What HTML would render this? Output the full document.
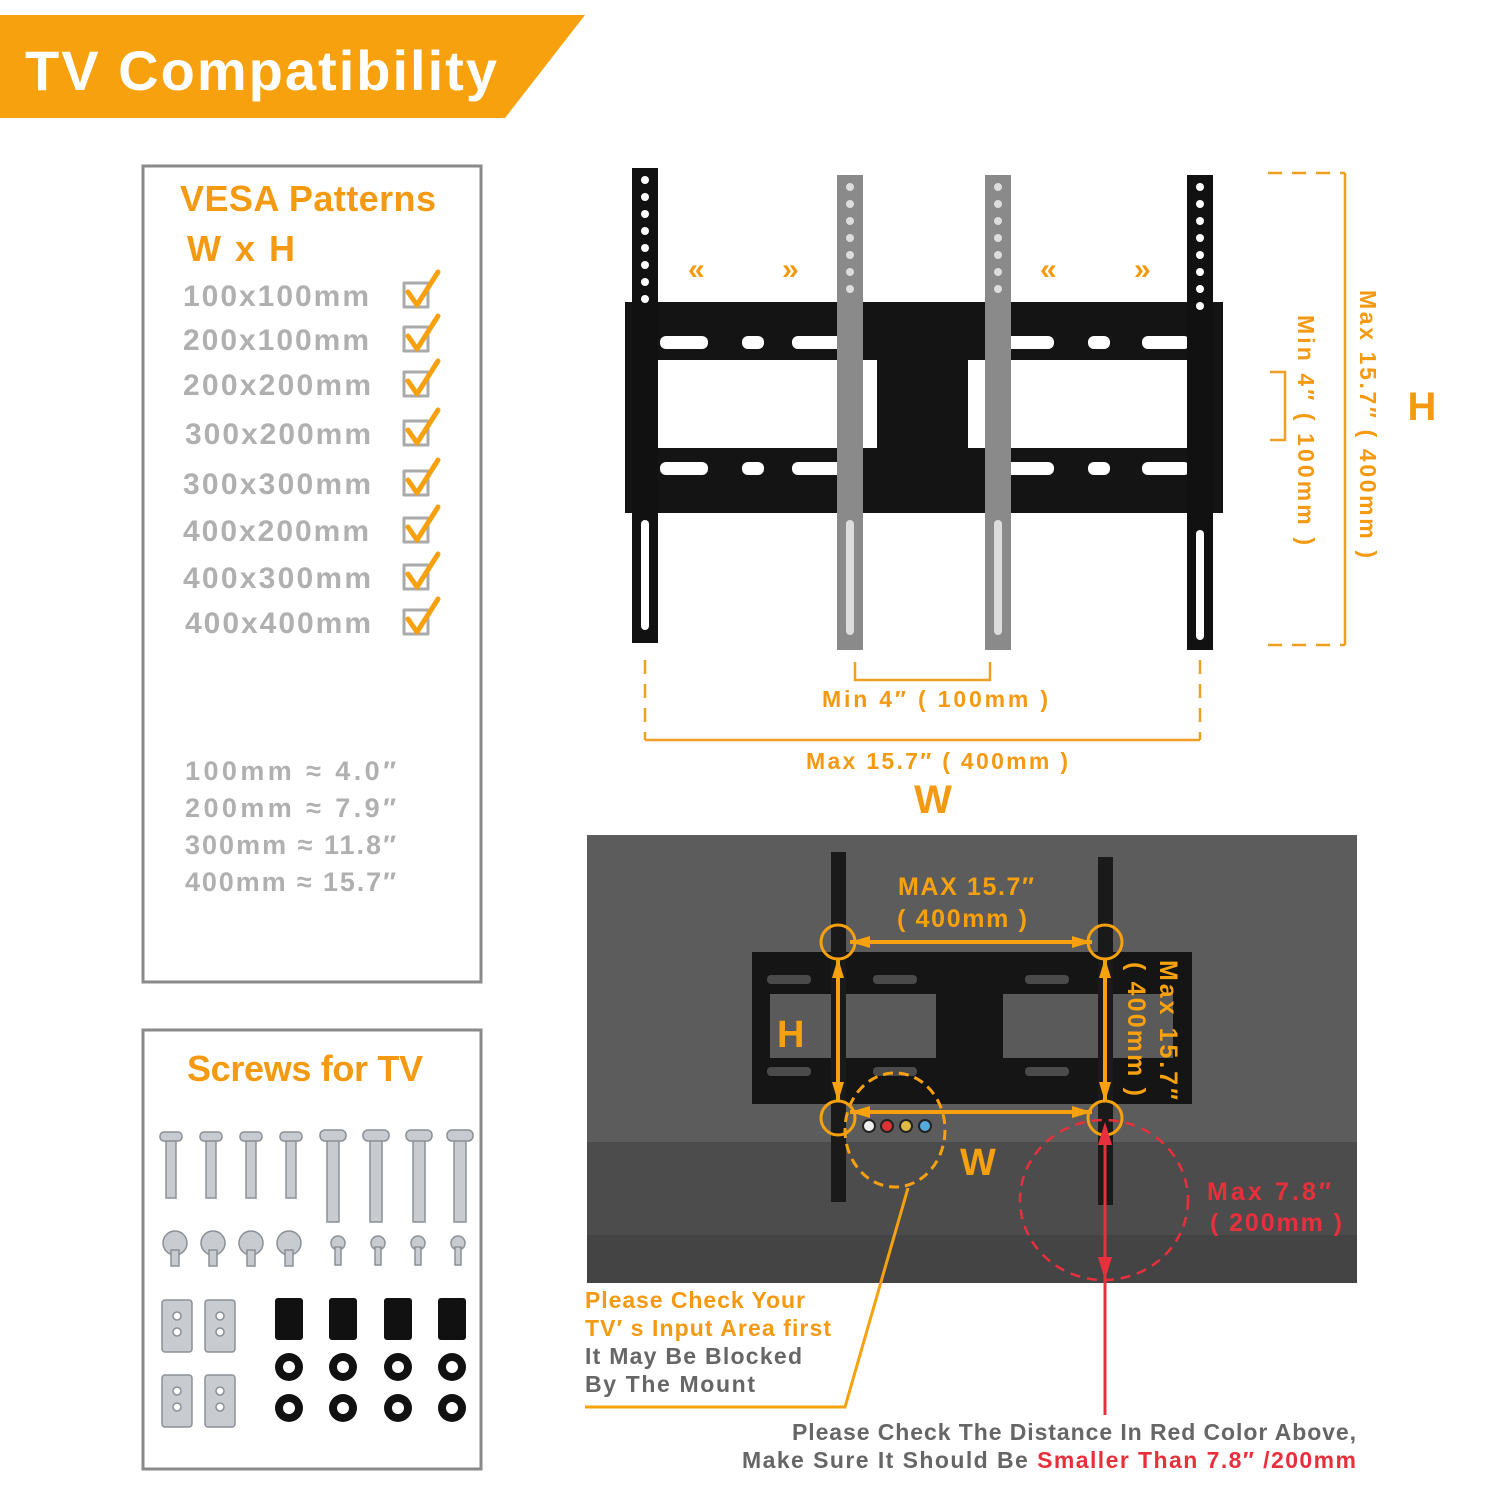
<!DOCTYPE html>
<html><head><meta charset="utf-8"><style>
html,body{margin:0;padding:0;background:#fff}
svg text{font-family:"Liberation Sans","DejaVu Sans",sans-serif;font-weight:bold}
</style></head><body>
<svg width="1500" height="1500" viewBox="0 0 1500 1500" xmlns="http://www.w3.org/2000/svg">
<!-- header -->
<polygon points="0,15 585,15 505,118 0,118" fill="#f7a10f"/>
<text x="25" y="90" font-size="56" fill="#fff" textLength="472" lengthAdjust="spacing">TV  Compatibility</text>

<!-- left box 1 -->
<rect x="143" y="166" width="338" height="816" fill="none" stroke="#8a8a8a" stroke-width="3"/>
<text x="180" y="211" font-size="36" fill="#f39a12" textLength="256">VESA Patterns</text>
<text x="187" y="261" font-size="36" fill="#f39a12" textLength="108" lengthAdjust="spacing">W x H</text>
<g font-size="30" fill="#b0b0b0">
<text x="183" y="306" textLength="186">100x100mm</text>
<text x="183" y="350" textLength="186">200x100mm</text>
<text x="183" y="395" textLength="188">200x200mm</text>
<text x="185" y="444" textLength="186">300x200mm</text>
<text x="183" y="494" textLength="188">300x300mm</text>
<text x="183" y="541" textLength="186">400x200mm</text>
<text x="183" y="588" textLength="188">400x300mm</text>
<text x="185" y="633" textLength="186">400x400mm</text>
</g>
<g stroke-linecap="round" stroke-linejoin="round">
<g id="cb">
<rect x="404" y="283" width="24" height="24" fill="none" stroke="#aaa" stroke-width="3"/>
<polyline points="408,292 417,305 438,272" fill="none" stroke="#f7a10f" stroke-width="5"/>
</g>
<use href="#cb" y="44"/><use href="#cb" y="89"/><use href="#cb" y="138"/>
<use href="#cb" y="188"/><use href="#cb" y="235"/><use href="#cb" y="282"/><use href="#cb" y="327"/>
</g>
<g font-size="27" fill="#b0b0b0">
<text x="185" y="780" textLength="211" lengthAdjust="spacing">100mm ≈   4.0″</text>
<text x="185" y="817" textLength="211" lengthAdjust="spacing">200mm ≈   7.9″</text>
<text x="185" y="854" textLength="211" lengthAdjust="spacing">300mm ≈ 11.8″</text>
<text x="185" y="891" textLength="211" lengthAdjust="spacing">400mm ≈ 15.7″</text>
</g>

<!-- left box 2 -->
<rect x="143" y="1030" width="338" height="439" fill="none" stroke="#8a8a8a" stroke-width="3"/>
<text x="187" y="1081" font-size="36" fill="#f39a12" textLength="236">Screws for TV</text>
<g fill="#c8ccd0" stroke="#8a9096" stroke-width="1.5">
<g id="s1"><rect x="166" y="1140" width="10" height="58"/><rect x="160" y="1132" width="22" height="9" rx="4"/></g>
<use href="#s1" x="40"/><use href="#s1" x="80"/><use href="#s1" x="120"/>
<g id="s2"><rect x="327" y="1140" width="12" height="82"/><rect x="320" y="1130" width="26" height="11" rx="5"/></g>
<use href="#s2" x="43"/><use href="#s2" x="86"/><use href="#s2" x="127"/>
<g id="s3"><circle cx="175" cy="1243" r="12"/><rect x="171" y="1250" width="8" height="16"/></g>
<use href="#s3" x="38"/><use href="#s3" x="76"/><use href="#s3" x="114"/>
<g id="s4"><circle cx="338" cy="1243" r="7"/><rect x="335" y="1247" width="6" height="18"/></g>
<use href="#s4" x="40"/><use href="#s4" x="80"/><use href="#s4" x="120"/>
<g id="p"><rect x="162" y="1300" width="30" height="52" rx="3"/><circle cx="177" cy="1316" r="4" fill="#fff"/><circle cx="177" cy="1332" r="4" fill="#fff"/></g>
<use href="#p" x="43"/><use href="#p" y="75"/><use href="#p" x="43" y="75"/>
</g>
<g fill="#111">
<g id="sp"><rect x="275" y="1298" width="28" height="42" rx="3"/><circle cx="289" cy="1367" r="14"/><circle cx="289" cy="1408" r="14"/></g>
<use href="#sp" x="54"/><use href="#sp" x="109"/><use href="#sp" x="163"/>
</g>
<g fill="#fff"><circle cx="289" cy="1367" r="6"/><circle cx="289" cy="1408" r="6"/><circle cx="343" cy="1367" r="6"/><circle cx="343" cy="1408" r="6"/><circle cx="398" cy="1367" r="6"/><circle cx="398" cy="1408" r="6"/><circle cx="452" cy="1367" r="6"/><circle cx="452" cy="1408" r="6"/></g>

<!-- top mount -->
<rect x="625" y="302" width="598" height="211" fill="#141414"/>
<rect x="655" y="360" width="222" height="88" fill="#fff"/>
<rect x="968" y="360" width="222" height="88" fill="#fff"/>
<g fill="#fff">
<rect x="660" y="336" width="48" height="13" rx="6"/><rect x="742" y="336" width="22" height="13" rx="6"/><rect x="792" y="336" width="54" height="13" rx="6"/>
<rect x="1000" y="336" width="54" height="13" rx="6"/><rect x="1088" y="336" width="22" height="13" rx="6"/><rect x="1142" y="336" width="48" height="13" rx="6"/>
<rect x="660" y="462" width="48" height="13" rx="6"/><rect x="742" y="462" width="22" height="13" rx="6"/><rect x="792" y="462" width="54" height="13" rx="6"/>
<rect x="1000" y="462" width="54" height="13" rx="6"/><rect x="1088" y="462" width="22" height="13" rx="6"/><rect x="1142" y="462" width="48" height="13" rx="6"/>
</g>
<rect x="632" y="168" width="26" height="475" fill="#111"/>
<rect x="1187" y="175" width="26" height="475" fill="#111"/>
<rect x="837" y="175" width="26" height="475" fill="#8a8a8a"/>
<rect x="985" y="175" width="26" height="475" fill="#8a8a8a"/>
<g fill="#fff">
<circle cx="645" cy="180" r="4"/><circle cx="645" cy="197" r="4"/><circle cx="645" cy="214" r="4"/><circle cx="645" cy="231" r="4"/><circle cx="645" cy="248" r="4"/><circle cx="645" cy="265" r="4"/><circle cx="645" cy="282" r="4"/><circle cx="645" cy="299" r="4"/>
<circle cx="1200" cy="187" r="4"/><circle cx="1200" cy="204" r="4"/><circle cx="1200" cy="221" r="4"/><circle cx="1200" cy="238" r="4"/><circle cx="1200" cy="255" r="4"/><circle cx="1200" cy="272" r="4"/><circle cx="1200" cy="289" r="4"/><circle cx="1200" cy="306" r="4"/>
<rect x="641" y="520" width="8" height="110" rx="4"/><rect x="1196" y="530" width="8" height="110" rx="4"/>
<rect x="846" y="520" width="8" height="115" rx="4" fill="#ddd"/><rect x="994" y="520" width="8" height="115" rx="4" fill="#ddd"/>
</g>
<g fill="#ddd">
<circle cx="850" cy="187" r="4"/><circle cx="850" cy="204" r="4"/><circle cx="850" cy="221" r="4"/><circle cx="850" cy="238" r="4"/><circle cx="850" cy="255" r="4"/><circle cx="850" cy="272" r="4"/><circle cx="850" cy="289" r="4"/>
<circle cx="998" cy="187" r="4"/><circle cx="998" cy="204" r="4"/><circle cx="998" cy="221" r="4"/><circle cx="998" cy="238" r="4"/><circle cx="998" cy="255" r="4"/><circle cx="998" cy="272" r="4"/><circle cx="998" cy="289" r="4"/>
</g>
<g font-size="30" fill="#f39a12"><text x="688" y="279">«</text><text x="782" y="279">»</text><text x="1040" y="279">«</text><text x="1134" y="279">»</text></g>

<!-- top dims -->
<g stroke="#f0a020" stroke-width="2.5" fill="none">
<line x1="645" y1="660" x2="645" y2="740" stroke-dasharray="14,10"/>
<line x1="1200" y1="660" x2="1200" y2="740" stroke-dasharray="14,10"/>
<line x1="645" y1="740" x2="1200" y2="740"/>
<polyline points="855,662 855,680 990,680 990,662"/>
<line x1="1268" y1="173" x2="1345" y2="173" stroke-dasharray="14,10"/>
<line x1="1268" y1="645" x2="1345" y2="645" stroke-dasharray="14,10"/>
<line x1="1345" y1="173" x2="1345" y2="645"/>
<polyline points="1270,372 1285,372 1285,440 1270,440"/>
</g>
<g fill="#f39a12">
<text x="822" y="707" font-size="23" textLength="226" lengthAdjust="spacing">Min  4″  ( 100mm )</text>
<text x="806" y="769" font-size="23" textLength="262" lengthAdjust="spacing">Max  15.7″  ( 400mm )</text>
<text x="933" y="813" font-size="40" text-anchor="middle">W</text>
<text x="1422" y="420" font-size="40" text-anchor="middle">H</text>
<text font-size="23" transform="translate(1360,290) rotate(90)" textLength="268" lengthAdjust="spacing">Max  15.7″  ( 400mm )</text>
<text font-size="23" transform="translate(1298,315) rotate(90)" textLength="230" lengthAdjust="spacing">Min  4″  ( 100mm )</text>
</g>

<!-- photo -->
<rect x="587" y="835" width="770" height="448" fill="#5c5c5c"/>
<rect x="587" y="1142" width="770" height="141" fill="#4c4c4c"/>
<rect x="587" y="1235" width="770" height="48" fill="#444"/>
<rect x="752" y="952" width="440" height="152" fill="#151515"/>
<rect x="770" y="994" width="166" height="64" fill="#5a5a5a"/>
<rect x="1003" y="994" width="170" height="64" fill="#5a5a5a"/>
<rect x="831" y="852" width="15" height="350" fill="#1a1a1a"/>
<rect x="1098" y="857" width="15" height="348" fill="#1a1a1a"/>
<g fill="#4a4a4a"><rect x="767" y="975" width="44" height="9" rx="4"/><rect x="873" y="975" width="44" height="9" rx="4"/><rect x="1025" y="975" width="44" height="9" rx="4"/><rect x="767" y="1067" width="44" height="9" rx="4"/><rect x="873" y="1067" width="44" height="9" rx="4"/><rect x="1025" y="1067" width="44" height="9" rx="4"/></g>
<g stroke="#f7a10f" stroke-width="3" fill="none">
<circle cx="838" cy="942" r="17"/><circle cx="1105" cy="942" r="17"/>
<circle cx="838" cy="1118" r="17"/><circle cx="1105" cy="1118" r="17"/>
<line x1="850" y1="942" x2="1092" y2="942" stroke-width="4"/>
<line x1="850" y1="1112" x2="1092" y2="1112" stroke-width="4"/>
<line x1="838" y1="958" x2="838" y2="1102" stroke-width="4"/>
<line x1="1105" y1="958" x2="1105" y2="1102" stroke-width="4"/>
<ellipse cx="895" cy="1130" rx="50" ry="57" stroke-dasharray="10,6"/>
<polyline points="908,1188 845,1407 585,1407"/>
</g>
<g fill="#f7a10f">
<polygon points="850,942 870,936 870,948"/><polygon points="1092,942 1072,936 1072,948"/>
<polygon points="850,1112 870,1106 870,1118"/><polygon points="1092,1112 1072,1106 1072,1118"/>
<polygon points="838,958 832,978 844,978"/><polygon points="838,1102 832,1082 844,1082"/>
<polygon points="1105,958 1099,978 1111,978"/><polygon points="1105,1102 1099,1082 1111,1082"/>
</g>
<g stroke="#222" stroke-width="2"><circle cx="869" cy="1126" r="6" fill="#eee"/><circle cx="887" cy="1126" r="6" fill="#d33"/><circle cx="906" cy="1126" r="6" fill="#db4"/><circle cx="925" cy="1126" r="6" fill="#5ad"/></g>
<g fill="#f7a10f">
<text x="898" y="895" font-size="25" textLength="136" lengthAdjust="spacing">MAX  15.7″</text>
<text x="897" y="927" font-size="25" textLength="130" lengthAdjust="spacing">( 400mm )</text>
<text x="777" y="1047" font-size="38">H</text>
<text x="960" y="1175" font-size="38">W</text>
<text font-size="25" transform="translate(1160,960) rotate(90)" textLength="140" lengthAdjust="spacing">Max  15.7″</text>
<text font-size="25" transform="translate(1128,962) rotate(90)" textLength="134" lengthAdjust="spacing">( 400mm )</text>
</g>
<ellipse cx="1104" cy="1200" rx="84" ry="80" fill="none" stroke="#e8303c" stroke-width="2.5" stroke-dasharray="10,7"/>
<line x1="1105" y1="1130" x2="1105" y2="1415" stroke="#e8303c" stroke-width="3"/>
<polygon points="1105,1122 1098,1145 1112,1145" fill="#e8303c"/>
<polygon points="1105,1280 1098,1257 1112,1257" fill="#e8303c"/>
<text x="1207" y="1200" font-size="25" fill="#e8303c" textLength="124" lengthAdjust="spacing">Max  7.8″</text>
<text x="1210" y="1231" font-size="25" fill="#e8303c" textLength="132" lengthAdjust="spacing">( 200mm )</text>

<!-- bottom text -->
<g font-size="23">
<text x="585" y="1308" fill="#f39a12" textLength="220">Please Check Your</text>
<text x="585" y="1336" fill="#f39a12" textLength="246">TV′ s Input Area first</text>
<text x="585" y="1364" fill="#666" textLength="217">It May Be Blocked</text>
<text x="585" y="1392" fill="#666" textLength="170">By The Mount</text>
<text x="792" y="1440" fill="#666" textLength="564">Please Check The Distance In Red Color Above,</text>
<text x="742" y="1468" fill="#666" textLength="614">Make Sure It Should Be <tspan fill="#e8303c">Smaller Than 7.8″ /200mm</tspan></text>
</g>
</svg>
</body></html>
